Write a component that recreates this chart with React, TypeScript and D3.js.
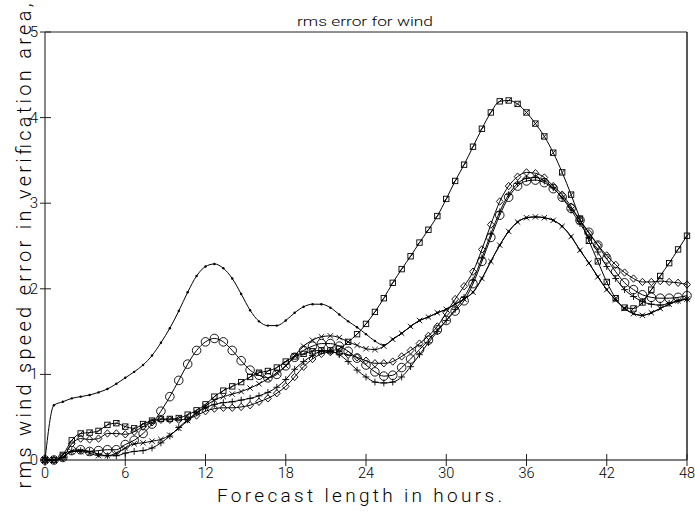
import React from 'react';
import * as d3 from 'd3';

const W = 695;
const H = 512;

const TITLE = 'rms error for wind';
const X_TITLE = 'Forecast length in hours.';
const Y_TITLE = 'rms wind speed error in verification area,';

const xTicks = [0, 6, 12, 18, 24, 30, 36, 42, 48];
const yTicks = [0, 1, 2, 3, 4, 5];

// forecast hours sampled every 40 minutes (0 .. 48)
const hours = d3.range(0, 73).map((i) => (i * 2) / 3);

const dotSeries = [
  0, 0.64, 0.68, 0.72, 0.74, 0.76, 0.79, 0.83, 0.89, 0.96, 1.03, 1.11, 1.22, 1.37, 1.54, 1.74, 1.96, 2.15,
  2.26, 2.29, 2.24, 2.12, 1.94, 1.75, 1.62, 1.57, 1.57, 1.63, 1.72, 1.79, 1.82, 1.82, 1.78, 1.7, 1.62, 1.55,
  1.47, 1.39, 1.34, 1.41, 1.48, 1.56, 1.63, 1.67, 1.72, 1.76, 1.82, 1.88, 1.96, 2.12, 2.32, 2.51, 2.67, 2.78,
  2.83, 2.84, 2.83, 2.8, 2.73, 2.61, 2.45, 2.3, 2.14, 1.99, 1.87, 1.77, 1.71, 1.69, 1.72, 1.77, 1.82, 1.86, 1.88,
];

const crossSeries = [
  0, 0, 0.03, 0.1, 0.1, 0.08, 0.05, 0.05, 0.08, 0.14, 0.19, 0.2, 0.22, 0.24, 0.29, 0.37, 0.46, 0.55,
  0.63, 0.7, 0.74, 0.77, 0.8, 0.84, 0.89, 0.95, 1.02, 1.1, 1.22, 1.33, 1.4, 1.44, 1.45, 1.43, 1.38, 1.34,
  1.3, 1.29, 1.33, 1.41, 1.48, 1.56, 1.63, 1.67, 1.72, 1.76, 1.82, 1.88, 1.96, 2.12, 2.32, 2.51, 2.67, 2.78,
  2.83, 2.84, 2.83, 2.8, 2.73, 2.61, 2.45, 2.3, 2.14, 1.99, 1.87, 1.77, 1.71, 1.69, 1.72, 1.77, 1.82, 1.86, 1.88,
];

const circleSeries = [
  0, 0, 0.03, 0.11, 0.12, 0.1, 0.11, 0.12, 0.12, 0.18, 0.23, 0.31, 0.42, 0.57, 0.74, 0.93, 1.12, 1.28,
  1.38, 1.42, 1.38, 1.28, 1.16, 1.05, 0.99, 0.96, 1.0, 1.1, 1.2, 1.28, 1.33, 1.36, 1.36, 1.33, 1.27, 1.19,
  1.11, 1.03, 0.98, 0.99, 1.08, 1.18, 1.29, 1.4, 1.52, 1.63, 1.74, 1.86, 2.06, 2.32, 2.6, 2.86, 3.07, 3.2,
  3.26, 3.27, 3.24, 3.17, 3.07, 2.94, 2.8, 2.66, 2.51, 2.35, 2.2, 2.07, 1.99, 1.93, 1.9, 1.89, 1.89, 1.9, 1.92,
];

const squareSeries = [
  0, 0, 0.06, 0.23, 0.31, 0.32, 0.34, 0.41, 0.43, 0.39, 0.37, 0.42, 0.46, 0.48, 0.48, 0.49, 0.53, 0.58,
  0.65, 0.74, 0.81, 0.86, 0.91, 0.97, 1.02, 1.04, 1.08, 1.15, 1.21, 1.24, 1.27, 1.28, 1.28, 1.3, 1.38, 1.47,
  1.59, 1.73, 1.89, 2.07, 2.23, 2.38, 2.54, 2.69, 2.85, 3.05, 3.26, 3.45, 3.66, 3.87, 4.06, 4.19, 4.2, 4.16,
  4.06, 3.93, 3.78, 3.59, 3.36, 3.1, 2.82, 2.56, 2.32, 2.08, 1.89, 1.78, 1.77, 1.84, 1.99, 2.15, 2.3, 2.46, 2.62,
];

const diamondSeries = [
  0, 0, 0.03, 0.19, 0.25, 0.24, 0.25, 0.31, 0.31, 0.3, 0.33, 0.39, 0.44, 0.47, 0.47, 0.47, 0.48, 0.52,
  0.57, 0.6, 0.61, 0.61, 0.62, 0.64, 0.68, 0.72, 0.78, 0.86, 0.97, 1.09, 1.18, 1.24, 1.26, 1.25, 1.23, 1.2,
  1.16, 1.13, 1.13, 1.15, 1.21, 1.28, 1.36, 1.45, 1.56, 1.72, 1.88, 2.03, 2.2, 2.46, 2.75, 3.02, 3.2, 3.31,
  3.36, 3.35, 3.3, 3.2, 3.1, 2.96, 2.8, 2.65, 2.51, 2.39, 2.28, 2.19, 2.12, 2.08, 2.08, 2.09, 2.08, 2.07, 2.05,
];

const plusSeries = [
  0, 0, 0.03, 0.1, 0.11, 0.1, 0.07, 0.05, 0.05, 0.08, 0.1, 0.11, 0.14, 0.2, 0.28, 0.38, 0.47, 0.55,
  0.61, 0.65, 0.67, 0.68, 0.7, 0.72, 0.75, 0.79, 0.85, 0.94, 1.06, 1.15, 1.22, 1.27, 1.27, 1.23, 1.15, 1.05,
  0.97, 0.91, 0.9, 0.91, 0.97, 1.09, 1.23, 1.37, 1.5, 1.63, 1.76, 1.9, 2.1, 2.36, 2.64, 2.9, 3.1, 3.23,
  3.29, 3.3, 3.26, 3.18, 3.06, 2.92, 2.76, 2.6, 2.43, 2.26, 2.12, 1.99, 1.91, 1.85, 1.82, 1.81, 1.83, 1.86, 1.88,
];

const seriesList = [
  { name: 'dot', values: dotSeries, marker: 'dot' },
  { name: 'cross', values: crossSeries, marker: 'cross' },
  { name: 'plus', values: plusSeries, marker: 'plus' },
  { name: 'circle', values: circleSeries, marker: 'circle' },
  { name: 'diamond', values: diamondSeries, marker: 'diamond' },
  { name: 'square', values: squareSeries, marker: 'square' },
];

const FONT = "Roboto, 'DejaVu Sans', sans-serif";

function Marker({ type, cx, cy }: { type: string; cx: number; cy: number }) {
  const s = { fill: 'none', stroke: '#000', strokeWidth: 0.9 };
  switch (type) {
    case 'dot':
      return <circle cx={cx} cy={cy} r={1.2} fill="#000" />;
    case 'circle':
      return <circle cx={cx} cy={cy} r={4.3} {...s} />;
    case 'square':
      return (
        <g>
          <rect x={cx - 2.7} y={cy - 2.7} width={5.4} height={5.4} {...s} />
          <line x1={cx - 2.7} y1={cy + 2.7} x2={cx + 2.7} y2={cy - 2.7} {...s} />
        </g>
      );
    case 'diamond':
      return <path d={`M${cx},${cy - 3.7}L${cx + 3.4},${cy}L${cx},${cy + 3.7}L${cx - 3.4},${cy}Z`} {...s} />;
    case 'cross':
      return (
        <path d={`M${cx - 2.7},${cy - 2.7}L${cx + 2.7},${cy + 2.7}M${cx - 2.7},${cy + 2.7}L${cx + 2.7},${cy - 2.7}`} {...s} />
      );
    case 'plus':
      return <path d={`M${cx - 3.4},${cy}L${cx + 3.4},${cy}M${cx},${cy - 3.4}L${cx},${cy + 3.4}`} {...s} />;
    default:
      return null;
  }
}

export default function App() {
  const left = 45;
  const right = 687;
  const top = 32;
  const bottom = 460;

  const x = d3.scaleLinear().domain([0, 48]).range([left, right]);
  const y = d3.scaleLinear().domain([0, 5]).range([bottom, top]);

  const line = d3
    .line<number>()
    .x((_, i) => x(hours[i]))
    .y((d) => y(d))
    .curve(d3.curveMonotoneX);

  return (
    <svg
      width={W}
      height={H}
      viewBox={`0 0 ${W} ${H}`}
      style={{ position: 'absolute', left: 0, top: 0, background: '#fff' }}
    >
      <rect x={0} y={0} width={W} height={H} fill="#fff" />
      {/* frame */}
      <line x1={left} y1={top} x2={right} y2={top} stroke="#222" strokeWidth={1} />
      <line x1={right} y1={top} x2={right} y2={bottom} stroke="#000" strokeWidth={1.3} />
      <line x1={left} y1={top} x2={left} y2={bottom} stroke="#555" strokeWidth={1.4} />
      <line x1={left} y1={bottom} x2={right} y2={bottom} stroke="#555" strokeWidth={1.4} />

      {/* y ticks */}
      {yTicks.map((t) => (
        <g key={`y${t}`}>
          <line x1={left - 5} x2={left + 6} y1={y(t)} y2={y(t)} stroke="#222" strokeWidth={1} />
          <text
            x={left - 7}
            y={y(t)}
            textAnchor="end"
            dominantBaseline="central"
            fontFamily={FONT}
            fontWeight={300}
            fontSize={15}
            fill="#000"
          >
            {t}
          </text>
        </g>
      ))}

      {/* x ticks */}
      {xTicks.map((t) => (
        <g key={`x${t}`}>
          <line x1={x(t)} x2={x(t)} y1={bottom - 6} y2={bottom + 6} stroke="#222" strokeWidth={1} />
          <text
            x={x(t)}
            y={478}
            textAnchor="middle"
            fontFamily={FONT}
            fontWeight={300}
            fontSize={14.5}
            fill="#000"
          >
            {t}
          </text>
        </g>
      ))}

      {/* titles */}
      <text
        x={365}
        y={26}
        textAnchor="middle"
        fontFamily={FONT}
        fontWeight={300}
        fontSize={12.5}
        textLength={136}
        lengthAdjust="spacingAndGlyphs"
        fill="#000"
      >
        {TITLE}
      </text>
      <text
        x={359.5}
        y={502}
        textAnchor="middle"
        fontFamily={FONT}
        fontWeight={300}
        fontSize={19}
        textLength={285}
        lengthAdjust="spacing"
        fill="#000"
      >
        {X_TITLE}
      </text>
      <text
        transform="translate(31,246) rotate(-90)"
        x={0}
        y={0}
        textAnchor="middle"
        fontFamily={FONT}
        fontWeight={300}
        fontSize={20}
        textLength={485}
        lengthAdjust="spacing"
        fill="#000"
      >
        {Y_TITLE}
      </text>

      {/* series */}
      {seriesList.map((s) => (
        <g key={s.name}>
          <path d={line(s.values) || ''} fill="none" stroke="#000" strokeWidth={1} />
          {s.values.map((v, i) => (
            <Marker key={i} type={s.marker} cx={x(hours[i])} cy={y(v)} />
          ))}
        </g>
      ))}
    </svg>
  );
}
